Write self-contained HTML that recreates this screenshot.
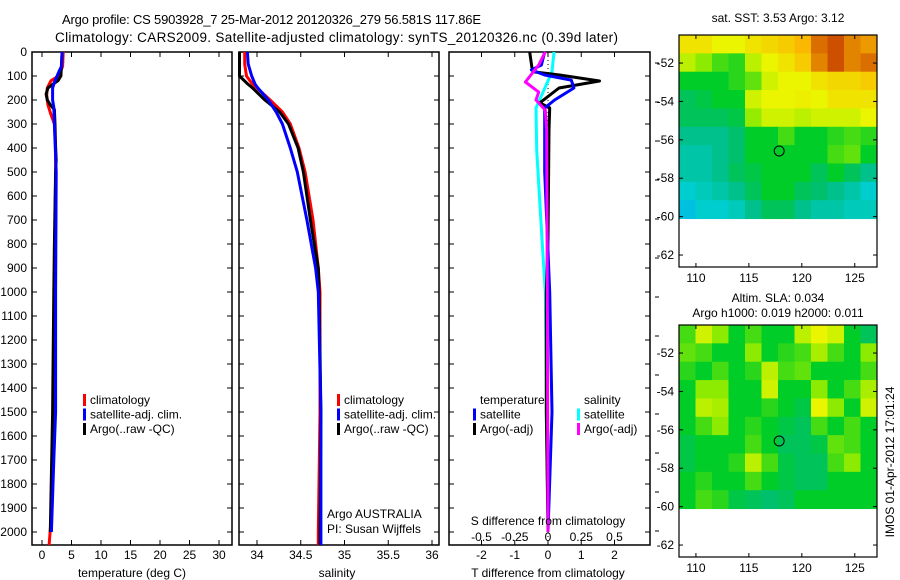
<!DOCTYPE html>
<html><head><meta charset="utf-8"><style>
html,body{margin:0;padding:0;background:#fff;}
svg{display:block;font-family:"Liberation Sans",sans-serif;}
</style></head><body>
<svg id="fig" width="900" height="580" xmlns="http://www.w3.org/2000/svg">
<text x="62" y="24" font-size="13" textLength="419" lengthAdjust="spacing">Argo profile: CS 5903928_7 25-Mar-2012 20120326_279 56.581S 117.86E</text>
<text x="55" y="42" font-size="13.5" textLength="563" lengthAdjust="spacing">Climatology: CARS2009. Satellite-adjusted climatology: synTS_20120326.nc (0.39d later)</text>
</svg>
<script>
// ---------- data ----------
const depthTicks = [0,100,200,300,400,500,600,700,800,900,1000,1100,1200,1300,1400,1500,1600,1700,1800,1900,2000];
const tempTicks = [0,5,10,15,20,25,30];
const salTicks = [34,34.5,35,35.5,36];
const salTickLabels = ["34","34.5","35","35.5","36"];
const tdiffTicks = [-2,-1,0,1,2];
const sdiffTicks = [-0.5,-0.25,0,0.25,0.5];
const latTicks = [-52,-54,-56,-58,-60,-62];
const lonTicks = [110,115,120,125];

const tArgoDepth = [0,50,100,120,135,150,175,200,220,240,300,400,450,500,800,1000,1500,2000];
const tArgoVal   = [3.4,3.3,3.2,2.7,1.8,1.0,0.7,0.9,1.4,2.1,2.2,2.3,2.4,2.3,2.1,2.0,1.8,1.4];
const tClimDepth = [0,60,100,120,150,180,220,260,300,400,500,800,1000,1500,1900,2054];
const tClimVal   = [3.6,3.5,2.8,1.5,0.9,0.8,1.0,1.5,2.1,2.3,2.3,2.2,2.1,1.9,1.7,1.2];
const tSatDepth  = [0,60,80,120,150,200,230,300,500,1000,1500,1700,2000];
const tSatVal    = [3.4,3.3,2.9,2.2,1.8,1.8,2.0,2.1,2.4,2.3,2.3,2.0,1.6];

const sDepth     = [0,50,100,135,150,200,250,300,400,500,700,900,1000,1500,2000,2054];
const sArgoVal   = [33.80,33.80,33.80,33.90,33.95,34.09,34.26,34.36,34.47,34.53,34.61,34.70,34.71,34.73,34.72,34.72];
const sClimVal   = [33.86,33.86,33.88,33.95,34.00,34.15,34.29,34.38,34.48,34.55,34.64,34.70,34.72,34.72,34.70,34.70];
const sSatVal    = [33.89,33.90,33.94,33.98,34.01,34.13,34.22,34.29,34.38,34.46,34.57,34.67,34.70,34.73,34.73,34.73];

const dTArgoDepth = [0,67,83,96,121,150,212,233,325,780,1000,1500,2000];
const dTArgoVal   = [-0.55,-0.48,-0.42,0.35,1.55,0.33,-0.25,0.05,0.03,0.0,-0.05,-0.05,0.0];
const dTSatDepth  = [0,54,75,96,117,150,200,233,500,1000,1500,2000];
const dTSatVal    = [-0.1,-0.2,-0.5,-0.1,0.7,0.78,0.2,-0.1,-0.1,0.05,0.12,0.0];
const dSSatDepth  = [0,83,158,233,408,780,1000,2000];
const dSSatVal    = [0.045,0.03,-0.03,-0.09,-0.085,-0.045,-0.02,0.0];
const dSArgoDepth = [0,54,125,167,200,242,325,1000,2000];
const dSArgoVal   = [-0.02,-0.07,-0.17,-0.07,-0.09,-0.02,-0.01,-0.005,0.0];

const sstGrid = [
[.78,.78,.75,.75,.78,.80,.82,.85,.92,.95,.90,.88],
[.70,.65,.60,.58,.70,.75,.78,.82,.90,.95,.90,.92],
[.55,.55,.55,.58,.62,.72,.75,.75,.78,.80,.80,.82],
[.50,.52,.55,.55,.72,.75,.75,.76,.75,.78,.78,.78],
[.50,.50,.50,.52,.66,.72,.72,.70,.72,.72,.72,.75],
[.45,.45,.45,.48,.55,.55,.60,.55,.55,.58,.60,.58],
[.42,.42,.45,.48,.55,.55,.55,.55,.55,.60,.62,.55],
[.42,.42,.45,.50,.52,.55,.55,.55,.50,.55,.50,.45],
[.38,.40,.42,.45,.50,.55,.55,.50,.48,.45,.42,.38],
[.35,.38,.38,.40,.45,.50,.50,.45,.42,.42,.40,.40]];
const slaGrid = [
[.60,.72,.65,.55,.60,.55,.55,.70,.75,.72,.55,.50],
[.62,.60,.55,.55,.65,.55,.58,.60,.68,.60,.55,.65],
[.58,.55,.60,.55,.58,.70,.60,.62,.55,.55,.55,.60],
[.55,.65,.65,.55,.55,.72,.55,.55,.65,.55,.60,.68],
[.55,.70,.68,.55,.55,.58,.55,.52,.75,.65,.55,.72],
[.55,.60,.65,.55,.58,.55,.52,.50,.60,.55,.60,.55],
[.52,.55,.55,.55,.60,.55,.50,.50,.52,.62,.60,.55],
[.52,.55,.55,.58,.70,.60,.52,.50,.50,.60,.65,.55],
[.55,.58,.55,.55,.60,.55,.52,.50,.50,.55,.55,.55],
[.55,.60,.58,.52,.50,.48,.50,.55,.55,.55,.55,.55]];
const argoLon = 117.86, argoLat = -56.58;

// ---------- helpers ----------
const NS = "http://www.w3.org/2000/svg";
const svg = document.getElementById('fig');
function mk(tag, attrs, parent){ const e=document.createElementNS(NS,tag); for(const k in attrs) e.setAttribute(k,attrs[k]); (parent||svg).appendChild(e); return e; }
function txt(x,y,s,size,anchor,parent){ const t=mk('text',{x:x,y:y,'font-size':size||12,'text-anchor':anchor||'start'},parent); t.textContent=s; return t; }

const Y0=52, YPX=0.24, YB=545;
const yD = d => Y0 + d*YPX;
const panels = [
 {name:'temperature-panel', x0:32, x1:232, fx: v => 42 + v*(219-42)/30},
 {name:'salinity-panel', x0:239, x1:439, fx: v => 257 + (v-34)*87.5},
 {name:'difference-panel', x0:449, x1:650, fx: v => 548 + v*33.25}
];
const fs = v => 548 + v*133;

panels.forEach((p,i)=>{
  const g = mk('g',{});
  
  
  p.g = g;
  const fr = mk('rect',{x:p.x0,y:Y0,width:p.x1-p.x0,height:YB-Y0,fill:'none',stroke:'#000','stroke-width':1.5},g);
  
  
  depthTicks.forEach(d=>{
    mk('line',{x1:p.x0,x2:p.x0+5,y1:yD(d),y2:yD(d),stroke:'#000'},g);
    mk('line',{x1:p.x1,x2:p.x1-5,y1:yD(d),y2:yD(d),stroke:'#000'},g);
  });
});
// depth labels
const yl = mk('g',{});


depthTicks.forEach(d=>{ txt(27,yD(d)+4,String(d),12,'end',yl); });

function xticks(p, ticks, labels, f){
  const g = mk('g',{},p.g);
  
  
  ticks.forEach((v,i)=>{
    const x=f(v);
    mk('line',{x1:x,x2:x,y1:YB,y2:YB-5,stroke:'#000'},g);
    mk('line',{x1:x,x2:x,y1:Y0,y2:Y0+5,stroke:'#000'},g);
    txt(x,559,labels[i],12,'middle',g);
  });
}
xticks(panels[0], tempTicks, tempTicks.map(String), panels[0].fx);
xticks(panels[1], salTicks, salTickLabels, panels[1].fx);
xticks(panels[2], tdiffTicks, tdiffTicks.map(String), panels[2].fx);
let t;
t=txt(132,577,'temperature (deg C)',12,'middle');  
t=txt(337,577,'salinity',12,'middle');  
t=txt(548,577,'T difference from climatology',12,'middle');  
t=txt(548,525,'S difference from climatology',12,'middle');  
sdiffTicks.forEach(v=>{ const s=txt(fs(v),541,String(v),12,'middle');   });
// zero dotted line
mk('line',{x1:548,x2:548,y1:Y0,y2:YB,stroke:'#000','stroke-dasharray':'1,3'},panels[2].g);
// stray ticks right of diff panel
for(let y=63;y<545;y+=39){ mk('line',{x1:655,x2:659,y1:y,y2:y,stroke:'#000'}); }

function line(p, depths, vals, f, color, name, w){
  const pts = depths.map((d,i)=>f(vals[i]).toFixed(1)+','+yD(d).toFixed(1)).join(' ');
  const l = mk('polyline',{points:pts,fill:'none',stroke:color,'stroke-width':w||3,'stroke-linejoin':'round'},p.g);
  
  
}
line(panels[0], tClimDepth, tClimVal, panels[0].fx, '#f00', 'temp-climatology-line');
line(panels[0], tArgoDepth, tArgoVal, panels[0].fx, '#000', 'temp-argo-line');
line(panels[0], tSatDepth, tSatVal, panels[0].fx, '#00f', 'temp-satellite-line');
line(panels[1], sDepth, sClimVal, panels[1].fx, '#f00', 'sal-climatology-line');
line(panels[1], sDepth, sArgoVal, panels[1].fx, '#000', 'sal-argo-line');
line(panels[1], sDepth, sSatVal, panels[1].fx, '#00f', 'sal-satellite-line');
line(panels[2], dSSatDepth, dSSatVal, fs, '#0ff', 'sdiff-satellite-line');
line(panels[2], dTArgoDepth, dTArgoVal, panels[2].fx, '#000', 'tdiff-argo-line');
line(panels[2], dTSatDepth, dTSatVal, panels[2].fx, '#00f', 'tdiff-satellite-line');
line(panels[2], dSArgoDepth, dSArgoVal, fs, '#f0f', 'sdiff-argo-line');

function legend(x, y, entries, name){
  const g=mk('g',{});
  
  
  entries.forEach((e,i)=>{
    if(e[0]) mk('rect',{x:x,y:y+i*14.5-10,width:3,height:12,fill:e[0]},g);
    txt(x+7,y+i*14.5,e[1],12,'start',g);
  });
}
legend(83,404,[['#f00','climatology'],['#00f','satellite-adj. clim.'],['#000','Argo(..raw -QC)']],'temperature-legend');
legend(337,404,[['#f00','climatology'],['#00f','satellite-adj. clim.'],['#000','Argo(..raw -QC)']],'salinity-legend');
legend(473,404,[[null,'temperature'],['#00f','satellite'],['#000','Argo(-adj)']],'tdiff-legend');
legend(577,404,[[null,'salinity'],['#0ff','satellite'],['#f0f','Argo(-adj)']],'sdiff-legend');
t=txt(327,518,'Argo AUSTRALIA',12);  
t=txt(327,533,'PI: Susan Wijffels',12);  

// ---------- maps ----------
function jet(v){
  const stops=[[0.30,[0,170,255]],[0.38,[0,205,205]],[0.47,[0,190,120]],[0.55,[0,205,40]],[0.65,[140,235,0]],[0.75,[235,245,0]],[0.85,[250,185,0]],[0.95,[205,80,0]]];
  if(v<=stops[0][0]) return 'rgb('+stops[0][1]+')';
  for(let i=1;i<stops.length;i++){ if(v<=stops[i][0]){ const a=stops[i-1],b=stops[i],f=(v-a[0])/(b[0]-a[0]); return 'rgb('+a[1].map((c,k)=>Math.round(c+(b[1][k]-c)*f)).join(',')+')'; } }
  return 'rgb('+stops[stops.length-1][1]+')';
}
const MX0=679, MX1=877, LON0=108.4, LON1=127.1;
const mxf = lon => MX0 + (lon-LON0)*(MX1-MX0)/(LON1-LON0);
function drawMap(top, grid, name){
  const g=mk('g',{});
  
  
  const myf = lat => top + (-50.54-lat)*19.2;
  const latTop=-50.54, latBot=-60.1;
  const rows=grid.length, cols=grid[0].length;
  const dLat=(latTop-latBot)/rows, dLon=(LON1-LON0)/cols;
  grid.forEach((row,r)=>row.forEach((v,c)=>{
    const x0=mxf(LON0+c*dLon), x1=mxf(LON0+(c+1)*dLon);
    const y0=myf(latTop-r*dLat), y1=myf(latTop-(r+1)*dLat);
    const cell=mk('rect',{x:x0,y:y0,width:x1-x0+0.5,height:y1-y0+0.5,fill:jet(v)},g);
    
    
  }));
  const bot = top+232;
  mk('rect',{x:MX0,y:top,width:MX1-MX0,height:bot-top,fill:'none',stroke:'#000','stroke-width':1.2},g);
  latTicks.forEach(l=>{ const y=myf(l); mk('line',{x1:MX0,x2:MX0+4,y1:y,y2:y,stroke:'#000'},g); mk('line',{x1:MX1,x2:MX1-4,y1:y,y2:y,stroke:'#000'},g); txt(674,y+4,String(l),12,'end',g); });
  lonTicks.forEach(l=>{ const x=mxf(l); mk('line',{x1:x,x2:x,y1:bot,y2:bot-4,stroke:'#000'},g); mk('line',{x1:x,x2:x,y1:top,y2:top+4,stroke:'#000'},g); txt(x,bot+15,String(l),12,'middle',g); });
  const c=mk('circle',{cx:mxf(argoLon),cy:myf(argoLat),r:5,fill:'none',stroke:'#000','stroke-width':1},g);
  
  
}
drawMap(35, sstGrid, 'sst-map');
drawMap(325, slaGrid, 'sla-map');
t=txt(778,22,'sat. SST: 3.53  Argo: 3.12',12,'middle');  
t=txt(778,302,'Altim. SLA: 0.034',12,'middle');  
t=txt(778,317,'Argo h1000: 0.019 h2000: 0.011',12,'middle');  
t=txt(0,0,'IMOS 01-Apr-2012 17:01:24',12,'middle'); t.setAttribute('transform','translate(894,462) rotate(-90)');
 
</script>
</body></html>
